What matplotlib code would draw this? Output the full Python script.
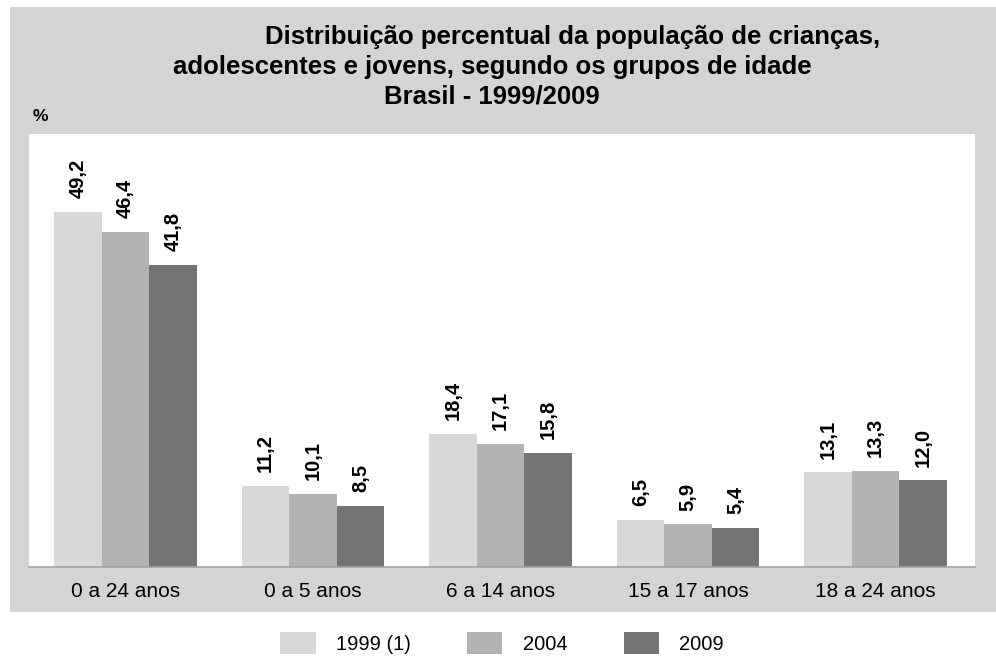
import matplotlib
matplotlib.use("Agg")
import numpy as np
import matplotlib.pyplot as plt
from matplotlib.patches import Rectangle

grupos = ["0 a 24 anos", "0 a 5 anos", "6 a 14 anos", "15 a 17 anos", "18 a 24 anos"]
anos = ["1999 (1)", "2004", "2009"]
v1999 = [49.2, 11.2, 18.4, 6.5, 13.1]
v2004 = [46.4, 10.1, 17.1, 5.9, 13.3]
v2009 = [41.8, 8.5, 15.8, 5.4, 12.0]
cores = ["#d8d8d8", "#b3b3b3", "#747474"]

plt.rcParams["font.family"] = ["Liberation Sans", "DejaVu Sans"]

fig = plt.figure(figsize=(9.96, 6.63), dpi=100)
fig.patch.set_facecolor("white")

# fundo cinza
fig.patches.append(Rectangle((10 / 996, 1 - 612 / 663), 986 / 996, 605 / 663,
                             transform=fig.transFigure, facecolor="#d4d4d4",
                             edgecolor="none", zorder=-5))

ax = fig.add_axes([29 / 996, 1 - 567 / 663, 946 / 996, 433 / 663])
ax.set_zorder(2)
ax.set_facecolor("white")

x = np.arange(len(grupos))
w = 0.253
for i, (vals, lab) in enumerate(zip((v1999, v2004, v2009), anos)):
    pos = x + (i - 1) * w
    ax.bar(pos, vals, width=w, color=cores[i], label=lab, linewidth=0)
    for p, v in zip(pos, vals):
        ax.annotate(f"{v:.1f}".replace(".", ","), (p, v), xytext=(0, 10),
                    textcoords="offset points", rotation=90, ha="center",
                    va="bottom", fontsize=14.5, fontweight="bold")

ax.set_xlim(-0.515, 4.531)
ax.set_ylim(0, 60)
ax.set_yticks([])
ax.set_xticks(x)
ax.set_xticklabels(grupos, fontsize=15)
ax.tick_params(axis="x", length=0, pad=11)
for s in ("top", "left", "right"):
    ax.spines[s].set_visible(False)
ax.spines["bottom"].set_color("#a3a3a3")
ax.spines["bottom"].set_linewidth(1.2)

fig.text(573 / 996, 1 - 44 / 663, "Distribuição percentual da população de crianças,",
         ha="center", va="baseline", fontsize=18.5, fontweight="bold")
fig.text(492 / 996, 1 - 74 / 663, "adolescentes e jovens, segundo os grupos de idade",
         ha="center", va="baseline", fontsize=18.5, fontweight="bold")
fig.text(492 / 996, 1 - 104 / 663, "Brasil - 1999/2009",
         ha="center", va="baseline", fontsize=18.5, fontweight="bold")
fig.text(33 / 996, 1 - 121 / 663, "%", ha="left", va="baseline",
         fontsize=12.5, fontweight="bold")

fig.legend(loc="center", bbox_to_anchor=(502 / 996, 1 - 643 / 663), ncol=3,
           frameon=False, fontsize=14.5, handlelength=1.75, handleheight=1.35,
           handletextpad=1.0, columnspacing=2.8)

fig.savefig("out.png", dpi=100)
